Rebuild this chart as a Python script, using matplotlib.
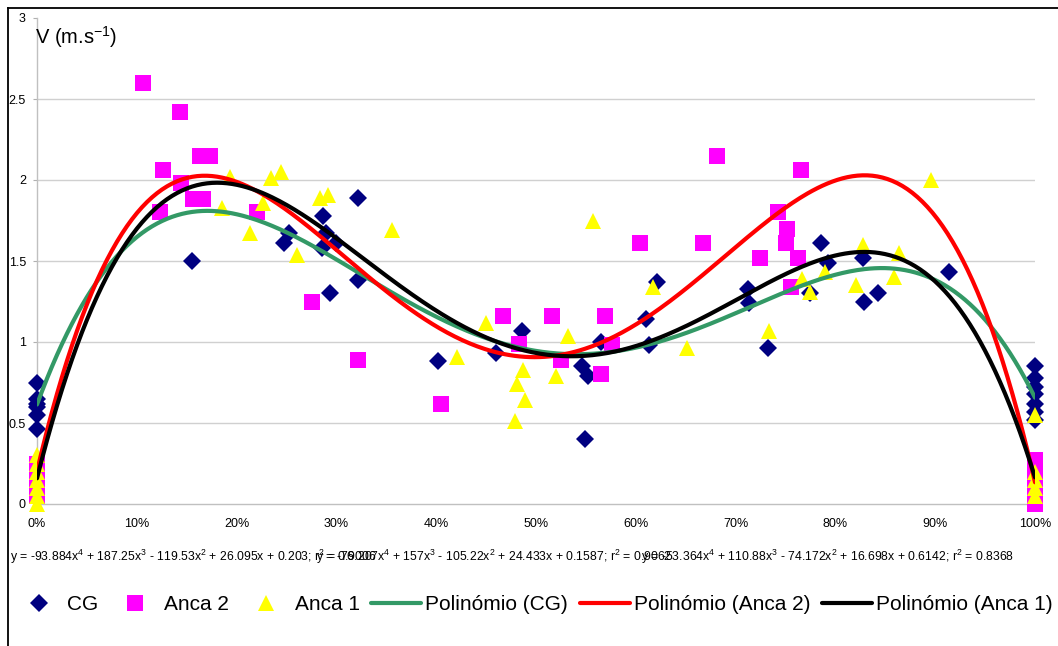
import numpy as np
import matplotlib
matplotlib.use("Agg")
import matplotlib.pyplot as plt
from matplotlib.lines import Line2D

plt.rcParams['font.family'] = ['Liberation Sans', 'DejaVu Sans']
plt.rcParams['mathtext.fontset'] = 'custom'
plt.rcParams['mathtext.rm'] = 'Liberation Sans'
plt.rcParams['mathtext.it'] = 'Liberation Sans:italic'
plt.rcParams['mathtext.default'] = 'regular'

# ---------------- data ----------------
cg_x = [0, 0, 0, 0, 0, 0,
        0.155, 0.247, 0.253, 0.286, 0.287, 0.290, 0.294, 0.300, 0.322, 0.322,
        0.402, 0.460, 0.486, 0.546, 0.552, 0.549, 0.565, 0.610, 0.613, 0.621,
        0.712, 0.713, 0.732, 0.775, 0.786, 0.793, 0.828, 0.829, 0.843, 0.914,
        1, 1, 1, 1, 1, 1, 1]
cg_y = [0.75, 0.65, 0.62, 0.60, 0.55, 0.46,
        1.50, 1.61, 1.67, 1.58, 1.78, 1.67, 1.30, 1.61, 1.89, 1.38,
        0.88, 0.93, 1.07, 0.85, 0.79, 0.40, 1.00, 1.14, 0.98, 1.37,
        1.33, 1.24, 0.96, 1.30, 1.61, 1.49, 1.52, 1.25, 1.30, 1.43,
        0.85, 0.78, 0.72, 0.68, 0.62, 0.57, 0.52]

anca2_x = [0, 0, 0, 0, 0,
           0.106, 0.143, 0.163, 0.173, 0.126, 0.144, 0.156, 0.166, 0.123, 0.220,
           0.276, 0.322, 0.405, 0.467, 0.516, 0.569, 0.483, 0.525, 0.576, 0.565,
           0.681, 0.766, 0.604, 0.667, 0.742, 0.752, 0.750, 0.724, 0.763, 0.756,
           1, 1, 1, 1, 1]
anca2_y = [0.25, 0.20, 0.15, 0.10, 0.05,
           2.60, 2.42, 2.15, 2.15, 2.06, 1.98, 1.88, 1.88, 1.80, 1.80,
           1.25, 0.89, 0.62, 1.16, 1.16, 1.16, 0.99, 0.89, 0.98, 0.80,
           2.15, 2.06, 1.61, 1.61, 1.80, 1.70, 1.61, 1.52, 1.52, 1.34,
           0.27, 0.20, 0.15, 0.10, 0.00]

anca1_x = [0, 0, 0, 0, 0, 0, 0,
           0.193, 0.185, 0.234, 0.244, 0.226, 0.213, 0.261, 0.284, 0.292, 0.356,
           0.450, 0.421, 0.532, 0.487, 0.481, 0.489, 0.479, 0.520, 0.557,
           0.617, 0.651, 0.733, 0.767, 0.775, 0.790, 0.828, 0.821, 0.864, 0.859, 0.896,
           1, 1, 1, 1, 1]
anca1_y = [0.30, 0.25, 0.20, 0.15, 0.10, 0.05, 0.00,
           2.02, 1.83, 2.01, 2.05, 1.86, 1.67, 1.54, 1.89, 1.91, 1.69,
           1.12, 0.91, 1.04, 0.83, 0.74, 0.64, 0.51, 0.79, 1.75,
           1.34, 0.96, 1.07, 1.39, 1.31, 1.43, 1.60, 1.35, 1.55, 1.40, 2.00,
           0.55, 0.20, 0.15, 0.10, 0.05]

# trendline coefficients (highest power first), as printed on the chart
coef_cg = [-53.364, 110.88, -74.172, 16.698, 0.6142]
coef_anca2 = [-93.884, 187.25, -119.53, 26.095, 0.203]
coef_anca1 = [-76.207, 157, -105.22, 24.433, 0.1587]

eq2_head = 'y = -93.884x$^{4}$ + 187.25x$^{3}$ - 119.53x$^{2}$ + 26.095x + 0.203; '
eq2_tail = 'r$^{2}$ = 0.9006'
eq1_head = 'y = -76.207x$^{4}$ + 157x$^{3}$ - 105.22x$^{2}$ + 24.433x + 0.1587; r$^{2}$ = 0'
eq1_tail = '.9062'
eq_cg = 'y = -53.364x$^{4}$ + 110.88x$^{3}$ - 74.172x$^{2}$ + 16.698x + 0.6142; r$^{2}$ = 0.8368'

x_ticks = [0, 0.1, 0.2, 0.3, 0.4, 0.5, 0.6, 0.7, 0.8, 0.9, 1.0]
x_labels = ['0%', '10%', '20%', '30%', '40%', '50%', '60%', '70%', '80%', '90%', '100%']
y_ticks = [0, 0.5, 1, 1.5, 2, 2.5, 3]
y_labels = ['0', '0.5', '1', '1.5', '2', '2.5', '3']

# ---------------- styles ----------------
C_CG = '#000080'
C_A2 = '#FF00FF'
C_A1 = '#FFFF00'
L_CG = '#339966'
L_A2 = '#FF0000'
L_A1 = '#000000'
MS_D, MS_S, MS_T = 9.5, 11, 11

W, H = 1058, 646
fig = plt.figure(figsize=(W / 100, H / 100), dpi=100)
ax = fig.add_axes([37 / W, (H - 504) / H, 998 / W, 486 / H])

ax.plot(cg_x, cg_y, linestyle='none', marker='D', ms=MS_D, mfc=C_CG, mec=C_CG, mew=0, clip_on=False, zorder=3)
ax.plot(anca2_x, anca2_y, linestyle='none', marker='s', ms=MS_S, mfc=C_A2, mec=C_A2, mew=0, clip_on=False, zorder=4)
ax.plot(anca1_x, anca1_y, linestyle='none', marker='^', ms=MS_T, mfc=C_A1, mec=C_A1, mew=0, clip_on=False, zorder=5)

xs = np.linspace(0, 1, 400)
ax.plot(xs, np.polyval(coef_cg, xs), color=L_CG, lw=3, zorder=6, solid_capstyle='round')
ax.plot(xs, np.polyval(coef_anca2, xs), color=L_A2, lw=3, zorder=7, solid_capstyle='round')
ax.plot(xs, np.polyval(coef_anca1, xs), color=L_A1, lw=3, zorder=8, solid_capstyle='round')

ax.set_xlim(0, 1)
ax.set_ylim(0, 3)
ax.set_xticks(x_ticks)
ax.set_xticklabels(x_labels)
ax.set_yticks(y_ticks)
ax.set_yticklabels(y_labels)
ax.tick_params(axis='x', length=0, pad=10, labelsize=9)
ax.tick_params(axis='y', length=3, pad=5, labelsize=9, color='#b0b0b0')
ax.yaxis.grid(True, color='#d0d0d0', lw=1)
gl = ax.get_ygridlines()
gl[0].set_visible(False)
gl[-1].set_visible(False)
ax.set_axisbelow(True)
for s in ['top', 'right']:
    ax.spines[s].set_visible(False)
for s in ['left', 'bottom']:
    ax.spines[s].set_color('#c0c0c0')
    ax.spines[s].set_linewidth(1)

# outer frame (left and top edges visible)
fig.add_artist(Line2D([8 / W, 8 / W], [0, 1 - 8 / H], color='black', lw=1.3, transform=fig.transFigure))
fig.add_artist(Line2D([8 / W, 1], [1 - 8 / H, 1 - 8 / H], color='black', lw=1.3, transform=fig.transFigure))

fig.text(35 / W, 1 - 37 / H, 'V (m.s$^{-1}$)', fontsize=14.5, ha='left', va='center')

# trendline equations (overlapping, as in the original)
EQ_FS = 8.85
renderer = fig.canvas.get_renderer()


def text_w(s):
    t = fig.text(0, 0, s, fontsize=EQ_FS)
    w = t.get_window_extent(renderer).width
    t.remove()
    return w


x1 = 10
x2 = x1 + text_w(eq2_head + 'r') - text_w('r')
x3 = x2 + text_w(eq1_head + '.') - text_w('.')
ey = 1 - 557 / H
fig.text(x1 / W, ey, eq2_head + eq2_tail, fontsize=EQ_FS, ha='left', va='center')
fig.text(x2 / W, ey, eq1_head + eq1_tail, fontsize=EQ_FS, ha='left', va='center')
fig.text(x3 / W, ey, eq_cg, fontsize=EQ_FS, ha='left', va='center')

handles = [
    Line2D([], [], linestyle='none', marker='D', ms=MS_D, mfc=C_CG, mec=C_CG, mew=0),
    Line2D([], [], linestyle='none', marker='s', ms=MS_S, mfc=C_A2, mec=C_A2, mew=0),
    Line2D([], [], linestyle='none', marker='^', ms=MS_T, mfc=C_A1, mec=C_A1, mew=0),
    Line2D([], [], color=L_CG, lw=3, solid_capstyle='round'),
    Line2D([], [], color=L_A2, lw=3, solid_capstyle='round'),
    Line2D([], [], color=L_A1, lw=3, solid_capstyle='round'),
]
labels = ['CG', 'Anca 2', 'Anca 1', 'Polinómio (CG)', 'Polinómio (Anca 2)', 'Polinómio (Anca 1)']
fig.legend(handles, labels, loc='center left', bbox_to_anchor=(13.5 / W, 1 - 605 / H),
           ncol=6, frameon=False, handlelength=2.4, handletextpad=0.19, columnspacing=0.56,
           borderpad=0, borderaxespad=0, fontsize=15)

fig.savefig('out.png', dpi=100)
